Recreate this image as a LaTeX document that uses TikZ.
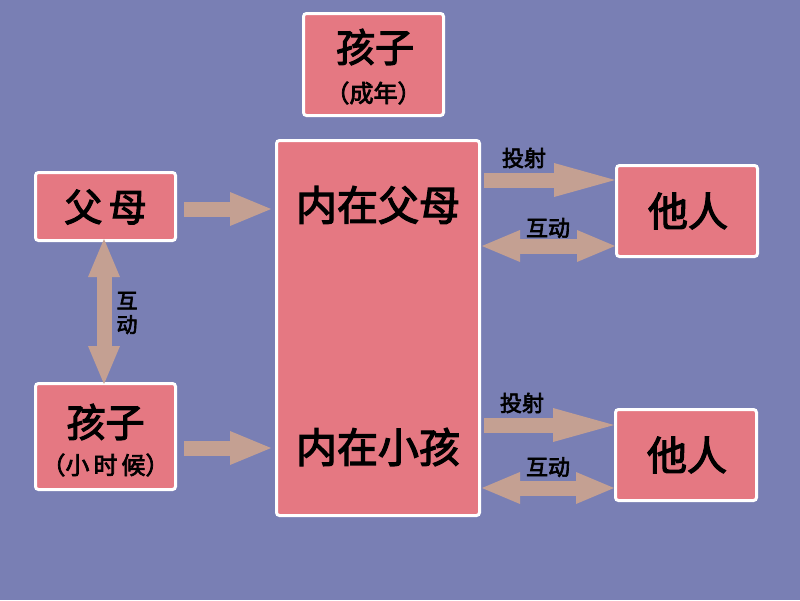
\documentclass[tikz,border=0pt]{standalone}
\usepackage{fontspec}
\setmainfont{Noto Sans CJK SC}[BoldFont={Noto Sans CJK SC}, BoldFeatures={FakeBold=3}]
\usetikzlibrary{arrows.meta}
\definecolor{bgc}{RGB}{121,127,180}
\definecolor{boxc}{RGB}{229,120,130}
\definecolor{arrc}{RGB}{196,160,146}
\tikzset{
  box/.style={draw=white, line width=3pt, fill=boxc, rounded corners=3pt, inner sep=0pt},
  txt/.style={inner sep=0pt, font=#1},
  fat/.style={arrc, line width=15pt, -{Triangle[length=41pt,width=34pt,line width=0pt]}},
  proj/.style={arrc, line width=15pt, -{Triangle[length=61pt,width=34pt,line width=0pt]}},
  dbl/.style={arrc, line width=15pt, {Triangle[length=38pt,width=32pt,line width=0pt]}-{Triangle[length=38pt,width=32pt,line width=0pt]}},
  lbl/.style={inner sep=1pt, fill=bgc, font=\fontsize{22}{24}\selectfont\bfseries}
}
\begin{document}
\begin{tikzpicture}[x=1pt,y=-1pt]
\fill[bgc] (0,0) rectangle (800,600);
\useasboundingbox (0,0) rectangle (800,600);
% boxes
\node[box, minimum width=140pt, minimum height=102pt] (top) at (373.5,64.5) {};
\node[box, minimum width=203pt, minimum height=375pt] (big) at (378,328) {};
\node[box, minimum width=140pt, minimum height=68pt] (par) at (105.5,206.5) {};
\node[box, minimum width=140pt, minimum height=106pt] (kid) at (105.5,436.5) {};
\node[box, minimum width=141pt, minimum height=91pt] (o1) at (687,211) {};
\node[box, minimum width=141pt, minimum height=91pt] (o2) at (686,455) {};
% texts
\node[txt=\fontsize{39}{40}\selectfont\bfseries] (topa) at (375,47) {孩子};
\node[txt=\fontsize{24}{25}\selectfont\bfseries] (topb) at (373.5,93) {（成年）};
\node[txt=\fontsize{41}{43}\selectfont\bfseries] (bigA) at (378,205) {内在父母};
\node[txt=\fontsize{41}{43}\selectfont\bfseries] (bigB) at (378,447) {内在小孩};
\node[txt=\fontsize{38}{40}\selectfont\bfseries] (part) at (105.5,207) {父\,母};
\node[txt=\fontsize{39}{40}\selectfont\bfseries] (kida) at (105.5,422) {孩子};
\node[txt=\fontsize{24}{25}\selectfont\bfseries] (kidb) at (105.5,465) {（小\,时\,候）};
\node[txt=\fontsize{40}{42}\selectfont\bfseries] (o1t) at (688,211) {他人};
\node[txt=\fontsize{40}{42}\selectfont\bfseries] (o2t) at (687,455) {他人};
% connector coordinates
\coordinate (pa) at ([xshift=7pt]par.east |- 0,209);
\coordinate (pb) at ([xshift=-4pt]big.west |- 0,209);
\coordinate (ka) at ([xshift=7pt]kid.east |- 0,448);
\coordinate (kb) at ([xshift=-4pt]big.west |- 0,448);
\coordinate (p1a) at ([xshift=3pt]big.east |- 0,180);
\coordinate (p1b) at (o1.west |- 0,180);
\coordinate (i1a) at ([xshift=1pt]big.east |- 0,246);
\coordinate (i1b) at (o1.west |- 0,246);
\coordinate (p2a) at ([xshift=3pt]big.east |- 0,425);
\coordinate (p2b) at (o2.west |- 0,425);
\coordinate (i2a) at ([xshift=1pt]big.east |- 0,488);
\coordinate (i2b) at (o2.west |- 0,488);
\coordinate (va) at ([yshift=3pt]par.south -| 104,0);
\coordinate (vb) at ([yshift=-2pt]kid.north -| 104,0);
% arrows
\draw[fat] (pa) -- (pb);
\draw[fat] (ka) -- (kb);
\draw[proj] (p1a) -- (p1b);
\draw[proj] (p2a) -- (p2b);
\draw[dbl] (i1a) -- (i1b);
\draw[dbl] (i2a) -- (i2b);
\draw[dbl] (va) -- (vb);
% labels
\node[lbl, fill=none] (l1) at (524,158) {投射};
\node[lbl, fill=none] (l2) at (522,403) {投射};
\node[lbl] (l3) at (548,228) {互动};
\node[lbl] (l4) at (548,467) {互动};
\node[lbl, align=center, font=\fontsize{21}{24}\selectfont\bfseries] (l5) at (127,313) {互\\动};
\end{tikzpicture}
\end{document}
